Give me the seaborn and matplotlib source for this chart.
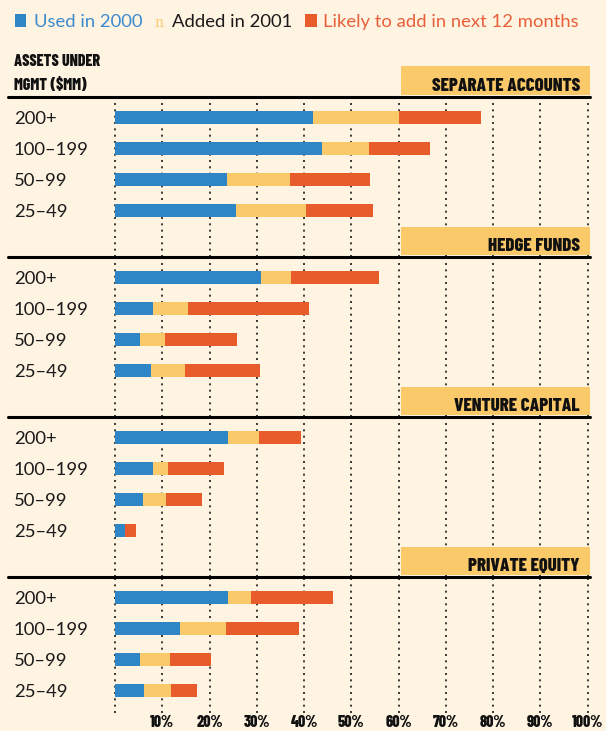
import matplotlib
matplotlib.use('Agg')
import matplotlib.pyplot as plt
from matplotlib.patches import Rectangle
from matplotlib.lines import Line2D
import seaborn as sns
import pandas as pd

# --- data (% of firms) ---
sizes = ['200+', '100–199', '50–99', '25–49']
panels = ['SEPARATE ACCOUNTS', 'HEDGE FUNDS', 'VENTURE CAPITAL', 'PRIVATE EQUITY']

sep_used = [42.0, 43.7, 23.6, 25.6]
sep_added = [18.0, 10.0, 13.4, 14.9]
sep_likely = [17.5, 13.0, 16.9, 14.0]

hedge_used = [30.8, 8.1, 5.3, 7.7]
hedge_added = [6.4, 7.4, 5.3, 7.1]
hedge_likely = [18.6, 25.5, 15.2, 15.9]

vc_used = [23.9, 8.1, 6.0, 2.2]
vc_added = [6.6, 3.2, 4.7, 0.0]
vc_likely = [8.9, 11.8, 7.7, 2.2]

pe_used = [24.0, 13.8, 5.3, 6.2]
pe_added = [4.8, 9.7, 6.3, 5.6]
pe_likely = [17.4, 15.5, 8.7, 5.6]

pct_ticks = list(range(0, 101, 10))
pct_labels = [''] + [f'{t}%' for t in pct_ticks[1:]]

# colours
BG = '#FFF3E2'
BLUE = '#2E86C6'
YELLOW = '#F9C96A'
RED = '#E85B2B'

# build one long table
rows = []
used_all = [sep_used, hedge_used, vc_used, pe_used]
added_all = [sep_added, hedge_added, vc_added, pe_added]
likely_all = [sep_likely, hedge_likely, vc_likely, pe_likely]
for name, u, a, l in zip(panels, used_all, added_all, likely_all):
    for s, uu, aa, ll in zip(sizes, u, a, l):
        rows.append({'panel': name, 'size': s, 'used': uu, 'added': aa, 'likely': ll})
df = pd.DataFrame(rows)
df['used_added'] = df['used'] + df['added']
df['total'] = df['used_added'] + df['likely']

W, H = 606, 731


def fx(px):
    return px / W


def fy(py):
    return 1 - py / H


sns.set_theme(style='white')
plt.rcParams['font.family'] = ['Lato', 'DejaVu Sans']
narrow = ['Barlow Condensed', 'DejaVu Sans']

fig = plt.figure(figsize=(W / 100, H / 100), dpi=100, facecolor=BG)

# axes geometry in pixels
pad_units = 0.3
px_per_unit = (587.6 - 115) / 100
left_px = 115 - pad_units * px_per_unit
right_px = 587.6 + pad_units * px_per_unit
row_px = 31
first_px = 20.5
panel_px = 160

for i, name in enumerate(panels):
    top = 97 + panel_px * i
    bottom = top + panel_px if i < 3 else 713
    ax = fig.add_axes([fx(left_px), fy(bottom), (right_px - left_px) / W, (bottom - top) / H])
    ax.set_facecolor('none')
    d = df[df['panel'] == name]

    # stacked bars: draw totals first, then partial sums on top
    for col, c in [('total', RED), ('used_added', YELLOW), ('used', BLUE)]:
        sns.barplot(data=d, x=col, y='size', order=sizes, color=c, saturation=1,
                    width=0.43, orient='h', ax=ax, zorder=3, linewidth=0)

    ytop = -first_px / row_px
    ax.set_ylim(ytop + (bottom - top) / row_px, ytop)
    ax.set_xlim(-pad_units, 100 + pad_units)
    ax.set_xticks(pct_ticks)
    ax.grid(axis='x', color='#1a1a1a', linestyle=(0, (1.2, 2.6)), linewidth=1.2, zorder=0)
    ax.grid(axis='y', visible=False)
    ax.set_axisbelow(True)
    for s in ax.spines.values():
        s.set_visible(False)
    ax.set_xlabel('')
    ax.set_ylabel('')

    ax.tick_params(axis='y', length=0, pad=(left_px - 14) * 0.72, labelsize=13.3, labelcolor='#1a1a1a')
    for lbl in ax.get_yticklabels():
        lbl.set_ha('left')

    if i == 3:
        ax.set_xticklabels(pct_labels, family=narrow, weight=800, size=11.5, color='#111111')
        ax.tick_params(axis='x', length=0, pad=1.5)
    else:
        ax.tick_params(axis='x', length=0, labelbottom=False)

    # thick rule and header box
    fig.add_artist(Line2D([fx(8), fx(590)], [fy(top), fy(top)], color='black',
                          linewidth=2.2, transform=fig.transFigure))
    fig.add_artist(Rectangle((fx(401), fy(top - 2.5)), (590 - 401) / W, 28 / H,
                             transform=fig.transFigure, facecolor=YELLOW, edgecolor='none'))
    fig.text(fx(580), fy(top - 6), name, ha='right', va='baseline', family=narrow,
             weight=800, size=13.6, color='#111111')

# header on the left
fig.text(fx(14), fy(66.5), 'ASSETS UNDER', family=narrow, weight=800, size=11.5, color='#111111')
fig.text(fx(14), fy(90), 'MGMT ($MM)', family=narrow, weight=800, size=11.5, color='#111111')

# legend
fig.add_artist(Rectangle((fx(15), fy(27)), 11 / W, 13 / H, transform=fig.transFigure,
                         facecolor=BLUE, edgecolor='none'))
fig.text(fx(34), fy(27), 'Used in 2000', color='#3A8BD0', size=13.3, va='baseline')
fig.text(fx(154), fy(27), 'n', color=YELLOW, family='DejaVu Serif', size=10, va='baseline')
fig.text(fx(172), fy(27), 'Added in 2001', color='#1a1a1a', size=13.3, va='baseline')
fig.add_artist(Rectangle((fx(305), fy(27)), 12 / W, 13 / H, transform=fig.transFigure,
                         facecolor=RED, edgecolor='none'))
fig.text(fx(323), fy(27), 'Likely to add in next 12 months', color='#E8603A', size=13.3, va='baseline')

fig.savefig('out.png', dpi=100, facecolor=BG)
